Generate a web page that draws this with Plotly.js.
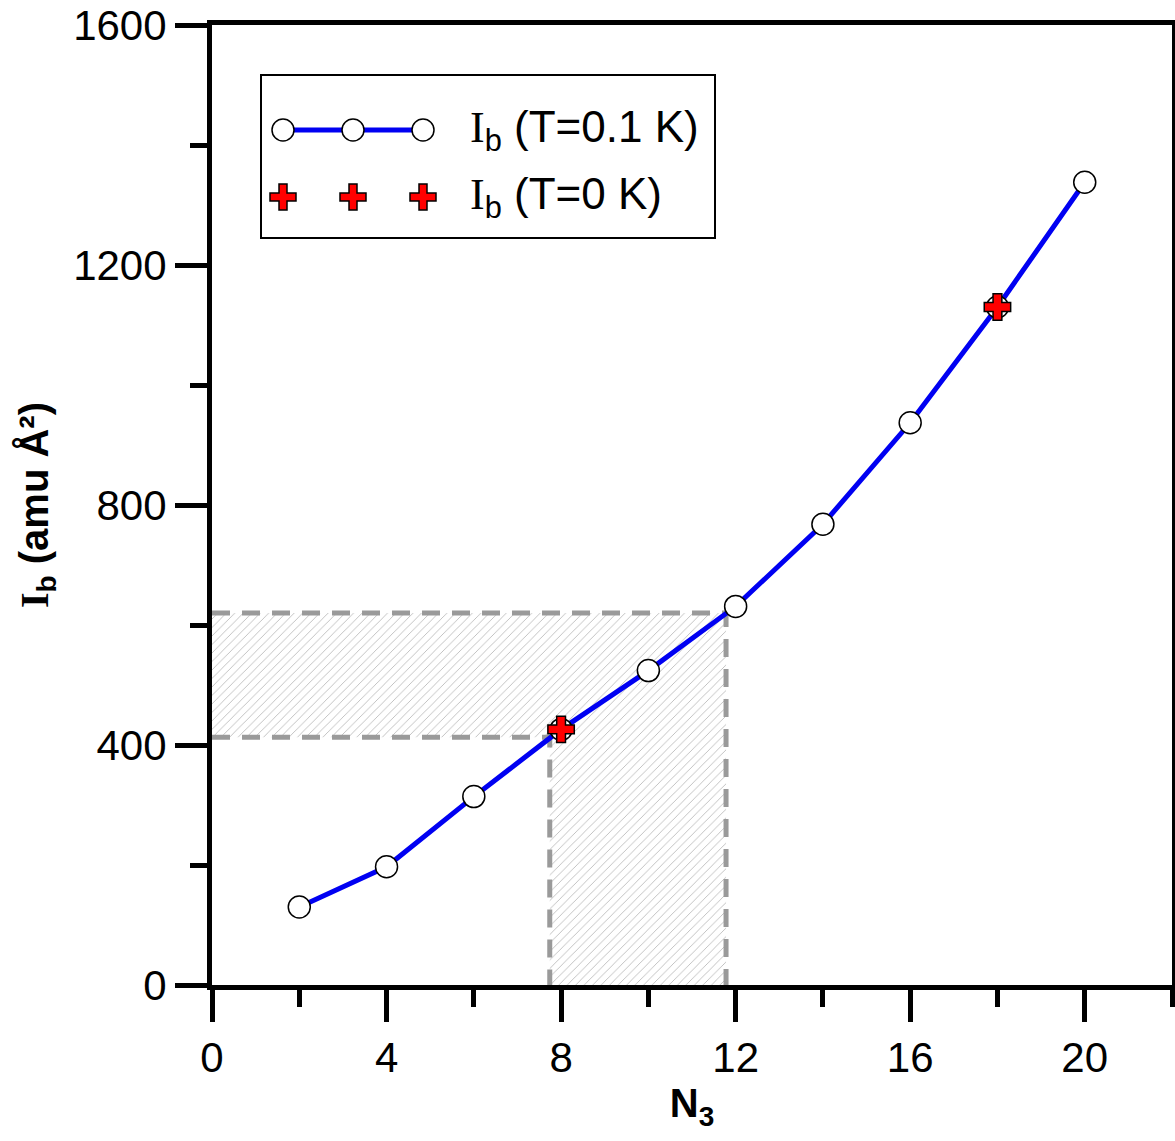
<!DOCTYPE html>
<html>
<head>
<meta charset="utf-8">
<script src="https://cdn.plot.ly/plotly-3.0.1.min.js"></script>
<style>
  body { margin: 0; background: #fff; }
  #plot { width: 1175px; height: 1141px; }
</style>
</head>
<body>
<div id="plot"></div>
<script>
// values
var nValues = [2, 4, 6, 8, 10, 12, 14, 16, 18, 20];
var ibWarm = [130, 197, 314, 426, 524, 631, 768, 937, 1130, 1338];   // T = 0.1 K
var nCold = [8, 18];
var ibCold = [426, 1130];                                           // T = 0 K
var guideX = [7.74, 11.78];
var guideY = [413, 620];
var xTicks = [0, 4, 8, 12, 16, 20];
var yTicks = [0, 400, 800, 1200, 1600];

var sans = 'Arial, "Liberation Sans", sans-serif';
var serif = 'Liberation Serif';
var blue = '#0000f2';

// hatched L-shaped area between the guide lines
var hatch = {
  x: [0, 0, guideX[1], guideX[1], guideX[0], guideX[0], 0],
  y: [guideY[0], guideY[1], guideY[1], 0, 0, guideY[0], guideY[0]],
  type: 'scatter',
  mode: 'lines',
  fill: 'toself',
  fillcolor: 'rgba(0,0,0,0)',
  fillpattern: {shape: '/', fgcolor: '#bdbdbd', bgcolor: '#ffffff', size: 6, solidity: 0.15},
  line: {width: 0},
  hoverinfo: 'skip',
  showlegend: false
};

var guides = {
  x: [0, guideX[1], guideX[1], null, 0, guideX[0], guideX[0]],
  y: [guideY[1], guideY[1], 0, null, guideY[0], guideY[0], 0],
  type: 'scatter',
  mode: 'lines',
  line: {color: '#9a9a9a', width: 5, dash: '18px,12px'},
  hoverinfo: 'skip',
  showlegend: false
};

var warm = {
  x: nValues,
  y: ibWarm,
  type: 'scatter',
  mode: 'lines+markers',
  line: {color: blue, width: 5},
  marker: {symbol: 'circle', size: 22, color: '#ffffff', line: {color: '#000000', width: 1.5}},
  showlegend: false
};

var cold = {
  x: nCold,
  y: ibCold,
  type: 'scatter',
  mode: 'markers',
  marker: {symbol: 'cross', size: 22, color: '#ff0000', line: {color: '#000000', width: 1.5}},
  showlegend: false
};

// hand-made legend (three symbols per row, like the original)
function px(x) { return (x - 212) / 960; }
function py(y) { return (985 - y) / 960; }
var row1 = py(130), row2 = py(197);
var symX = [px(283), px(353), px(423)];
var crossPath = 'M-4,-13 H4 V-4 H13 V4 H4 V13 H-4 V4 H-13 V-4 H-4 Z';

var shapes = [
  {type: 'rect', xref: 'paper', yref: 'paper', x0: px(261), x1: px(715), y0: py(238), y1: py(75),
   line: {color: '#000', width: 2}, fillcolor: '#fff', layer: 'above'},
  {type: 'line', xref: 'paper', yref: 'paper', x0: symX[0], x1: symX[2], y0: row1, y1: row1,
   line: {color: blue, width: 5}}
];
symX.forEach(function (sx) {
  shapes.push({type: 'circle', xref: 'paper', yref: 'paper', xsizemode: 'pixel', ysizemode: 'pixel',
    xanchor: sx, yanchor: row1, x0: -11, x1: 11, y0: -11, y1: 11,
    fillcolor: '#fff', line: {color: '#000', width: 1.5}});
  shapes.push({type: 'path', xref: 'paper', yref: 'paper', xsizemode: 'pixel', ysizemode: 'pixel',
    xanchor: sx, yanchor: row2, path: crossPath,
    fillcolor: '#ff0000', line: {color: '#000', width: 1.5}});
});

var ibLabel = '<span style="font-family:' + serif + '">I</span><sub>b</sub>';
var annotations = [
  {xref: 'paper', yref: 'paper', x: px(468), y: row1, xanchor: 'left', yanchor: 'middle',
   text: ibLabel + ' (T=0.1 K)', showarrow: false, font: {family: sans, size: 44, color: '#000'}},
  {xref: 'paper', yref: 'paper', x: px(468), y: row2, xanchor: 'left', yanchor: 'middle',
   text: ibLabel + ' (T=0 K)', showarrow: false, font: {family: sans, size: 44, color: '#000'}}
];

var axisCommon = {
  showline: true, linecolor: '#000', linewidth: 5, mirror: true,
  ticks: 'outside', ticklen: 32, tickwidth: 5, tickcolor: '#000',
  showgrid: false, zeroline: false,
  tickfont: {family: sans, size: 42, color: '#000'}
};

var layout = {
  width: 1175,
  height: 1141,
  margin: {l: 212, r: 3, t: 25, b: 156},
  paper_bgcolor: '#fff',
  plot_bgcolor: '#fff',
  showlegend: false,
  xaxis: Object.assign({}, axisCommon, {
    range: [0, 22],
    tickvals: xTicks,
    minor: {dtick: 2, tick0: 0, ticks: 'outside', ticklen: 17, tickwidth: 5, tickcolor: '#000', showgrid: false},
    title: {text: 'N<sub>3</sub>', font: {family: sans, size: 40, weight: 'bold', color: '#000'}, standoff: 8}
  }),
  yaxis: Object.assign({}, axisCommon, {
    range: [0, 1600],
    tickvals: yTicks,
    minor: {dtick: 200, tick0: 0, ticks: 'outside', ticklen: 17, tickwidth: 5, tickcolor: '#000', showgrid: false},
    title: {text: '<span style="font-family:' + serif + '">I</span><sub>b</sub> (amu Å²)',
            font: {family: sans, size: 40, weight: 'bold', color: '#000'}, standoff: 14}
  }),
  shapes: shapes,
  annotations: annotations
};

Plotly.newPlot('plot', [hatch, guides, warm, cold], layout, {staticPlot: true, displayModeBar: false});
</script>
</body>
</html>
